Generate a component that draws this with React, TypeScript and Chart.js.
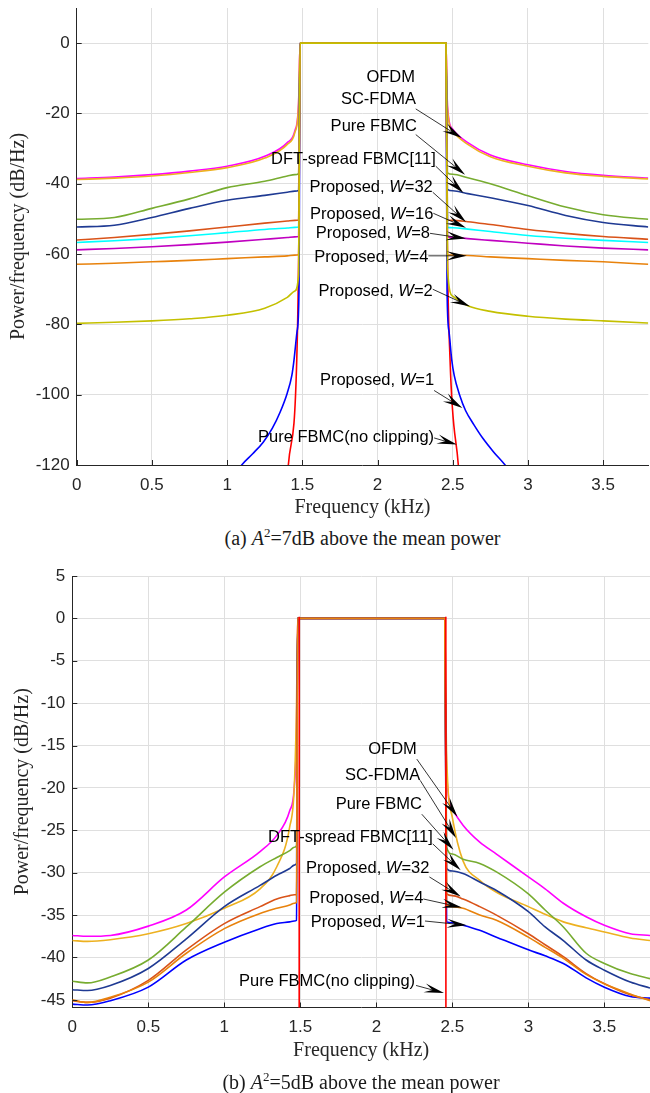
import React, { useEffect, useRef } from 'react';
import { Chart, registerables } from 'chart.js';

Chart.register(...registerables);

// ---------- (a) A^2 = 7 dB : frequencies (kHz) and PSD values (dB/Hz) ----------
const FREQ_A = [0, 0.25, 0.5, 0.75, 1.0, 1.25, 1.4, 1.45, 1.475, 1.485, 1.75, 2.0, 2.25, 2.455, 2.465, 2.5, 2.6, 2.75, 3.0, 3.25, 3.5, 3.8];
const OFDM_A = [-38.5, -38.1, -37.4, -36.4, -35.0, -32.2, -28.3, -25.0, -17.0, 0, 0, 0, 0, 0, -18.0, -24.5, -28.3, -31.8, -34.6, -36.5, -37.6, -38.4];
const SCFDMA_A = [-38.8, -38.4, -37.8, -36.8, -35.4, -32.7, -28.8, -25.5, -17.5, 0, 0, 0, 0, 0, -18.5, -25.0, -28.8, -32.3, -35.0, -36.9, -37.9, -38.6];
const PURE_A = [-50.1, -49.6, -47.0, -44.3, -41.1, -39.3, -37.8, -37.4, -37.1, 0, 0, 0, 0, 0, -36.9, -37.3, -38.3, -40.0, -43.4, -46.6, -48.8, -50.1];
const DFTS_A = [-52.3, -51.8, -49.6, -47.0, -44.7, -43.3, -42.4, -42.1, -41.9, 0, 0, 0, 0, 0, -41.6, -42.0, -42.8, -44.0, -46.2, -49.0, -51.0, -52.3];
const W32_A = [-56.0, -55.3, -54.4, -53.4, -52.3, -51.2, -50.6, -50.4, -50.3, 0, 0, 0, 0, 0, -50.3, -50.4, -50.8, -51.6, -53.0, -54.1, -55.0, -55.8];
const W16_A = [-56.7, -56.2, -55.6, -54.8, -53.9, -53.0, -52.6, -52.4, -52.3, 0, 0, 0, 0, 0, -52.4, -52.5, -52.9, -53.6, -54.7, -55.5, -56.1, -56.7];
const W8_A = [-58.8, -58.4, -57.9, -57.3, -56.6, -55.8, -55.3, -55.1, -55.0, 0, 0, 0, 0, 0, -55.1, -55.2, -55.6, -56.1, -56.9, -57.7, -58.3, -58.8];
const W4_A = [-62.9, -62.6, -62.2, -61.8, -61.3, -60.8, -60.5, -60.3, -60.2, 0, 0, 0, 0, 0, -60.2, -60.3, -60.4, -60.8, -61.3, -61.8, -62.2, -62.9];
const W2_A = [-79.7, -79.4, -79.0, -78.4, -77.4, -75.4, -72.3, -70.5, -66.0, 0, 0, 0, 0, 0, -64.0, -72.0, -74.7, -76.3, -77.7, -78.5, -79.0, -79.6];
const W1_A_FREQ = [1.05, 1.097, 1.17, 1.24, 1.3, 1.352, 1.4, 1.43, 1.445, 1.465, 1.478, 1.485, 1.75, 2.0, 2.25, 2.455, 2.462, 2.475, 2.493, 2.51, 2.545, 2.585, 2.64, 2.7, 2.77, 2.848, 2.9];
const W1_A = [-123, -120, -116.8, -113.5, -109.6, -105, -99.5, -94.6, -90, -82, -70, 0, 0, 0, 0, 0, -70, -82, -90, -94.6, -100, -104.5, -108.5, -112.4, -116.2, -120, -123];
const NOCLIP_A_FREQ = [1.39, 1.407, 1.463, 1.478, 1.485, 1.75, 2.0, 2.25, 2.455, 2.462, 2.482, 2.537, 2.555];
const NOCLIP_A = [-130, -120, -90, -50, 0, 0, 0, 0, 0, -50, -90, -120, -130];

// ---------- (b) A^2 = 5 dB ----------
const FREQ_B = [0, 0.1, 0.25, 0.5, 0.75, 1.0, 1.235, 1.345, 1.43, 1.46, 1.475, 1.482, 1.75, 2.0, 2.25, 2.45, 2.462, 2.5, 2.57, 2.68, 2.79, 3.0, 3.11, 3.23, 3.38, 3.5, 3.67, 3.8];
const OFDM_B = [-37.4, -37.5, -37.4, -36.3, -34.4, -30.5, -27.5, -25.6, -22.7, -19.9, -13.0, 0, 0, 0, 0, 0, -18.0, -22.5, -24.4, -26.4, -27.8, -30.5, -31.9, -33.6, -35.2, -36.2, -37.2, -37.4];
const SCFDMA_B = [-38.0, -38.1, -37.9, -37.2, -36.0, -34.2, -31.9, -29.3, -24.6, -19.9, -10.0, 0, 0, 0, 0, 0, -16.0, -23.5, -28.6, -30.9, -32.3, -34.0, -34.9, -35.8, -36.5, -37.0, -37.7, -38.0];
const PURE_B = [-42.8, -43.0, -42.3, -40.3, -36.4, -32.3, -29.3, -28.2, -27.4, -27.0, -26.8, 0, 0, 0, 0, 0, -27.0, -27.8, -28.4, -28.9, -29.9, -32.5, -34.4, -36.4, -39.5, -40.7, -41.9, -42.5];
const DFTS_B = [-43.8, -43.9, -43.3, -41.3, -37.8, -34.0, -31.5, -30.3, -29.5, -29.1, -28.9, 0, 0, 0, 0, 0, -29.5, -29.8, -30.1, -31.1, -32.1, -34.6, -36.4, -38.0, -40.3, -41.5, -42.9, -43.6];
const W32_B = [-45.1, -45.3, -44.8, -42.7, -39.1, -36.0, -34.0, -33.1, -32.7, -32.6, -32.6, 0, 0, 0, 0, 0, -32.5, -32.7, -33.1, -34.0, -35.0, -37.2, -38.5, -39.9, -41.9, -43.1, -44.4, -45.0];
const W4_B = [-45.0, -45.3, -44.7, -42.9, -39.5, -36.6, -34.8, -34.2, -33.8, -33.6, -33.5, 0, 0, 0, 0, 0, -33.8, -34.0, -34.2, -35.0, -35.6, -37.6, -38.8, -40.1, -42.0, -43.1, -44.3, -45.1];
const W1_B = [-45.5, -45.6, -45.1, -43.5, -40.3, -38.2, -36.6, -36.0, -35.8, -35.7, -35.6, 0, 0, 0, 0, 0, -35.8, -35.9, -36.2, -36.8, -37.6, -39.1, -39.8, -40.7, -42.4, -43.5, -44.6, -44.8];
const NOCLIP_B_FREQ = [1.492, 1.493, 2.0, 2.457, 2.458];
const NOCLIP_B = [-80, 0.2, null, 0.2, -80];

// ---------- labels with arrows (data coordinates) ----------
type Note = { text: string; at: [number, number]; from?: [number, number]; to?: [number, number] };

const NOTES_A: Note[] = [
  { text: 'OFDM', at: [2.249, -9.65] },
  { text: 'SC-FDMA', at: [2.256, -16.1], from: [2.254, -18.7], to: [2.56, -27] },
  { text: 'Pure FBMC', at: [2.261, -23.7], from: [2.254, -26], to: [2.582, -37.4] },
  { text: 'DFT-spread FBMC[11]', at: [2.387, -33.1], from: [2.387, -35], to: [2.571, -42.6] },
  { text: 'Proposed, *W*=32', at: [2.367, -41.1], from: [2.367, -42.4], to: [2.588, -50.9] },
  { text: 'Proposed, *W*=16', at: [2.371, -48.7], from: [2.371, -48.4], to: [2.588, -52.5] },
  { text: 'Proposed, *W*=8', at: [2.349, -54.1], from: [2.349, -54.1], to: [2.588, -55.6] },
  { text: 'Proposed, *W*=4', at: [2.338, -61], from: [2.338, -60.5], to: [2.593, -60.5] },
  { text: 'Proposed, *W*=2', at: [2.367, -70.6], from: [2.367, -70], to: [2.615, -74.9] },
  { text: 'Proposed, *W*=1', at: [2.376, -96], from: [2.376, -98.8], to: [2.564, -103.8] },
  { text: 'Pure FBMC(no clipping)', at: [2.376, -112.3], from: [2.376, -112.3], to: [2.527, -114.2] },
];

const NOTES_B: Note[] = [
  { text: 'OFDM', at: [2.266, -15.5], from: [2.266, -16.6], to: [2.533, -23.4] },
  { text: 'SC-FDMA', at: [2.288, -18.5], from: [2.288, -19.1], to: [2.524, -25.9] },
  { text: 'Pure FBMC', at: [2.299, -22], from: [2.299, -23.1], to: [2.507, -27.3] },
  { text: 'DFT-spread FBMC[11]', at: [2.371, -25.9], from: [2.371, -26.6], to: [2.555, -29.7] },
  { text: 'Proposed, *W*=32', at: [2.349, -29.5], from: [2.349, -30.5], to: [2.555, -32.8] },
  { text: 'Proposed, *W*=4', at: [2.309, -33], from: [2.309, -33.1], to: [2.562, -34.1] },
  { text: 'Proposed, *W*=1', at: [2.32, -35.9], from: [2.32, -35.7], to: [2.595, -36.2] },
  { text: 'Pure FBMC(no clipping)', at: [2.255, -42.8], from: [2.261, -43.3], to: [2.445, -44.2] },
];

const SANS = "'Liberation Sans', Arial, sans-serif";
const SERIF = "'Liberation Serif', 'Times New Roman', serif";
const AXIS = '#262626';
const GRID = '#dfdfdf';
const NOTE_SIZE = 16.5;

const C = {
  ofdm: '#FF00FF', sc: '#EDB120', pure: '#77AC30', dft: '#1F3A93', w32: '#D95319',
  w16: '#00FFFF', w8: '#C000C0', w4: '#E8820C', w2: '#C4C000', w1: '#0000FF', noclip: '#FF0000',
};

function pts(f: number[], v: (number | null)[]) {
  return f.map((x, i) => ({ x, y: v[i] }));
}
function ds(data: { x: number; y: number | null }[], color: string) {
  return { data, borderColor: color, backgroundColor: color, borderWidth: 1.6, pointRadius: 0, fill: false, spanGaps: false, cubicInterpolationMode: 'monotone' as const };
}

function drawArrow(ctx: CanvasRenderingContext2D, x0: number, y0: number, x1: number, y1: number) {
  const dx = x1 - x0, dy = y1 - y0;
  const len = Math.hypot(dx, dy) || 1;
  const ux = dx / len, uy = dy / len, nx = -uy, ny = ux;
  const L = 20, W = 4.6, N = 0.6 * L;
  ctx.beginPath();
  ctx.moveTo(x0, y0);
  ctx.lineTo(x1 - ux * N, y1 - uy * N);
  ctx.lineWidth = 0.8;
  ctx.strokeStyle = '#000';
  ctx.stroke();
  ctx.beginPath();
  ctx.moveTo(x1, y1);
  ctx.lineTo(x1 - ux * L + nx * W, y1 - uy * L + ny * W);
  ctx.lineTo(x1 - ux * N, y1 - uy * N);
  ctx.lineTo(x1 - ux * L - nx * W, y1 - uy * L - ny * W);
  ctx.closePath();
  ctx.fillStyle = '#000';
  ctx.fill();
}

function makePlugin(notes: Note[], yTitleX: number) {
  return {
    id: 'psdDecor',
    afterDraw(chart: any) {
      const { ctx, chartArea: a, scales } = chart;
      const xs = scales.x, ys = scales.y;
      ctx.save();
      // inward tick marks
      ctx.strokeStyle = AXIS;
      ctx.lineWidth = 1;
      xs.ticks.forEach((t: any) => {
        const px = Math.round(xs.getPixelForValue(t.value)) + 0.5;
        ctx.beginPath();
        ctx.moveTo(px, a.bottom);
        ctx.lineTo(px, a.bottom - 5);
        ctx.stroke();
      });
      ys.ticks.forEach((t: any) => {
        const py = Math.round(ys.getPixelForValue(t.value)) + 0.5;
        ctx.beginPath();
        ctx.moveTo(a.left, py);
        ctx.lineTo(a.left + 5, py);
        ctx.stroke();
      });
      // annotations
      notes.forEach((n) => {
        if (n.from && n.to) {
          drawArrow(ctx, xs.getPixelForValue(n.from[0]), ys.getPixelForValue(n.from[1]), xs.getPixelForValue(n.to[0]), ys.getPixelForValue(n.to[1]));
        }
      });
      ctx.textBaseline = 'middle';
      ctx.textAlign = 'left';
      ctx.fillStyle = '#000';
      notes.forEach((n) => {
        const parts = n.text.split('*');
        const fonts = parts.map((_, i) => (i % 2 === 1 ? `italic ${NOTE_SIZE}px ${SANS}` : `${NOTE_SIZE}px ${SANS}`));
        let total = 0;
        const widths = parts.map((p, i) => {
          ctx.font = fonts[i];
          const w = ctx.measureText(p).width;
          total += w;
          return w;
        });
        let x = xs.getPixelForValue(n.at[0]) - total;
        const y = ys.getPixelForValue(n.at[1]);
        parts.forEach((p, i) => {
          ctx.font = fonts[i];
          ctx.fillText(p, x, y);
          x += widths[i];
        });
      });
      // axis titles
      ctx.fillStyle = AXIS;
      ctx.font = `20px ${SERIF}`;
      ctx.textAlign = 'center';
      ctx.textBaseline = 'middle';
      ctx.fillText('Frequency (kHz)', (a.left + a.right) / 2, a.bottom + 43);
      ctx.translate(yTitleX, (a.top + a.bottom) / 2);
      ctx.rotate(-Math.PI / 2);
      ctx.fillText('Power/frequency (dB/Hz)', 0, 0);
      ctx.restore();
    },
  };
}

type Area = { left: number; right: number; top: number; bottom: number };

function PsdChart(props: { height: number; datasets: any[]; yMin: number; yMax: number; yStep: number; area: Area; notes: Note[]; yTitleX: number }) {
  const ref = useRef<HTMLCanvasElement>(null);
  useEffect(() => {
    const { height, datasets, yMin, yMax, yStep, area, notes, yTitleX } = props;
    const tickFont = { family: SANS, size: 17 };
    const chart = new Chart(ref.current as HTMLCanvasElement, {
      type: 'line',
      data: { datasets },
      options: {
        responsive: false,
        animation: false,
        devicePixelRatio: 1,
        layout: { padding: { left: 0, top: area.top, right: 650 - area.right, bottom: 0 } },
        plugins: { legend: { display: false }, tooltip: { enabled: false } },
        scales: {
          x: {
            type: 'linear',
            min: 0,
            max: 3.8,
            ticks: { stepSize: 0.5, includeBounds: false, padding: 10, color: AXIS, font: tickFont, maxRotation: 0, autoSkip: false, callback: (v: any) => `${+v}` },
            grid: { color: GRID, drawTicks: false },
            border: { color: AXIS, width: 1 },
            afterFit: (s: any) => {
              s.height = height - area.bottom;
              s.paddingLeft = 0;
              s.paddingRight = 0;
            },
          },
          y: {
            type: 'linear',
            min: yMin,
            max: yMax,
            ticks: { stepSize: yStep, includeBounds: false, padding: 7, color: AXIS, font: tickFont, autoSkip: false, callback: (v: any) => `${+v}` },
            grid: { color: GRID, drawTicks: false },
            border: { color: AXIS, width: 1 },
            afterFit: (s: any) => {
              s.width = area.left;
              s.paddingTop = 0;
              s.paddingBottom = 0;
            },
          },
        },
      } as any,
      plugins: [makePlugin(notes, yTitleX)],
    });
    return () => chart.destroy();
  }, []);
  return <canvas ref={ref} width={650} height={props.height} style={{ display: 'block' }} />;
}

const datasetsA = [
  ds(pts(FREQ_A, W2_A), C.w2),
  ds(pts(FREQ_A, W4_A), C.w4),
  ds(pts(FREQ_A, W8_A), C.w8),
  ds(pts(FREQ_A, W16_A), C.w16),
  ds(pts(FREQ_A, W32_A), C.w32),
  ds(pts(FREQ_A, DFTS_A), C.dft),
  ds(pts(FREQ_A, PURE_A), C.pure),
  ds(pts(FREQ_A, SCFDMA_A), C.sc),
  ds(pts(FREQ_A, OFDM_A), C.ofdm),
  ds(pts(W1_A_FREQ, W1_A), C.w1),
  ds(pts(NOCLIP_A_FREQ, NOCLIP_A), C.noclip),
];

const datasetsB = [
  ds(pts(NOCLIP_B_FREQ, NOCLIP_B), C.noclip),
  ds(pts(FREQ_B, W4_B), C.w4),
  ds(pts(FREQ_B, W32_B), C.w32),
  ds(pts(FREQ_B, W1_B), C.w1),
  ds(pts(FREQ_B, DFTS_B), C.dft),
  ds(pts(FREQ_B, PURE_B), C.pure),
  ds(pts(FREQ_B, SCFDMA_B), C.sc),
  ds(pts(FREQ_B, OFDM_B), C.ofdm),
];

const capStyle: React.CSSProperties = {
  position: 'absolute',
  transform: 'translateX(-50%)',
  whiteSpace: 'nowrap',
  font: `20px ${SERIF}`,
  lineHeight: '24px',
  color: '#1a1a1a',
};
const supStyle: React.CSSProperties = { fontSize: '13px', position: 'relative', top: '-8px' };

export default function App() {
  return (
    <div style={{ position: 'absolute', left: 0, top: 0, width: 650, height: 1093, background: '#fff', overflow: 'hidden' }}>
      <div style={{ position: 'absolute', left: 0, top: 0 }}>
        <PsdChart height={520} datasets={datasetsA} yMin={-120} yMax={10} yStep={20} area={{ left: 76.7, right: 648.3, top: 8, bottom: 465 }} notes={NOTES_A} yTitleX={18.5} />
      </div>
      <div style={{ ...capStyle, left: 362.5, top: 526 }}>
        (a) <i>A</i><span style={supStyle}>2</span>=7dB above the mean power
      </div>
      <div style={{ position: 'absolute', left: 0, top: 550 }}>
        <PsdChart height={543} datasets={datasetsB} yMin={-45.9} yMax={5} yStep={5} area={{ left: 72.3, right: 650, top: 26, bottom: 457.5 }} notes={NOTES_B} yTitleX={22.5} />
      </div>
      <div style={{ ...capStyle, left: 361, top: 1070 }}>
        (b) <i>A</i><span style={supStyle}>2</span>=5dB above the mean power
      </div>
    </div>
  );
}
